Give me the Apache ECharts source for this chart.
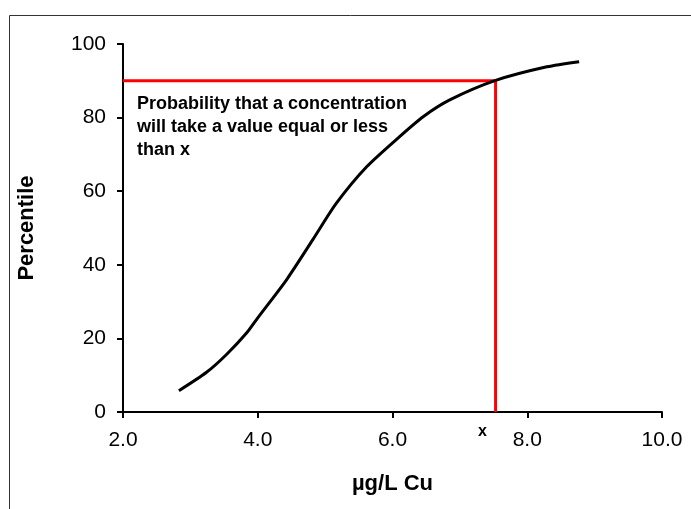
<!DOCTYPE html>
<html>
<head>
    <meta charset="utf-8">
    <script src="https://cdn.jsdelivr.net/npm/echarts@6/dist/echarts.min.js"></script>
</head>
<body style="margin:0">
<div id="main" style="width: 691px;height:509px;"></div>
<script type="text/javascript">
    // cumulative curve
    var concX = [2.83, 3.24, 3.54, 3.84, 4.0, 4.43, 4.82, 5.17, 5.62, 6.11, 6.46, 6.85, 7.53, 8.29, 8.77];
    var percentY = [5.8, 10.8, 15.7, 21.6, 25.6, 36, 46.9, 56.8, 66.7, 74.9, 80.3, 84.8, 90.1, 93.8, 95.2];
    // red guide: 90th percentile -> x
    var guideX = [2, 7.53, 7.53];
    var guideY = [90, 90, 0];

    var font = 'Arial, "Liberation Sans", sans-serif';
    var myChart = echarts.init(document.getElementById('main'));

    var curve = concX.map(function (v, i) { return [v, percentY[i]]; });
    var guide = guideX.map(function (v, i) { return [v, guideY[i]]; });

    option = {
        animation: false,
        backgroundColor: '#fff',
        grid: {left: 123, right: 29, top: 44, bottom: 97},
        xAxis: {
            type: 'value',
            min: 2, max: 10, interval: 2,
            name: 'µg/L Cu',
            nameLocation: 'middle',
            nameGap: 61,
            nameTextStyle: {fontFamily: font, fontSize: 22, fontWeight: 'bold', color: '#000'},
            axisLine: {lineStyle: {color: '#000', width: 2}},
            axisTick: {length: 6, lineStyle: {color: '#000', width: 2}},
            axisLabel: {
                margin: 18, color: '#000', fontFamily: font, fontSize: 21,
                formatter: function (v) { return v.toFixed(1); }
            },
            splitLine: {show: false}
        },
        yAxis: {
            type: 'value',
            min: 0, max: 100, interval: 20,
            name: 'Percentile',
            nameLocation: 'middle',
            nameGap: 85,
            nameTextStyle: {fontFamily: font, fontSize: 22, fontWeight: 'bold', color: '#000'},
            axisLine: {show: true, lineStyle: {color: '#000', width: 2}},
            axisTick: {show: true, length: 6, lineStyle: {color: '#000', width: 2}},
            axisLabel: {margin: 17, color: '#000', fontFamily: font, fontSize: 21},
            splitLine: {show: false}
        },
        series: [
            {
                type: 'line',
                data: guide,
                symbol: 'none',
                lineStyle: {color: '#ff0000', width: 3},
                z: 2
            },
            {
                type: 'line',
                data: curve,
                symbol: 'none',
                smooth: 0.25,
                lineStyle: {color: '#000', width: 3},
                z: 3
            }
        ],
        graphic: [
            {
                type: 'rect',
                shape: {x: 9.5, y: 15.5, width: 700, height: 520},
                style: {fill: 'none', stroke: '#333', lineWidth: 1},
                silent: true
            },
            {
                type: 'text',
                left: 137, top: 93,
                style: {
                    text: 'Probability that a concentration\nwill take a value equal or less\nthan x',
                    font: 'bold 18px ' + font,
                    lineHeight: 23,
                    fill: '#000'
                }
            },
            {
                type: 'text',
                left: 478, top: 424,
                style: {text: 'x', font: 'bold 16px ' + font, fill: '#000'}
            }
        ]
    };

    myChart.setOption(option);
</script>
</body>
</html>
